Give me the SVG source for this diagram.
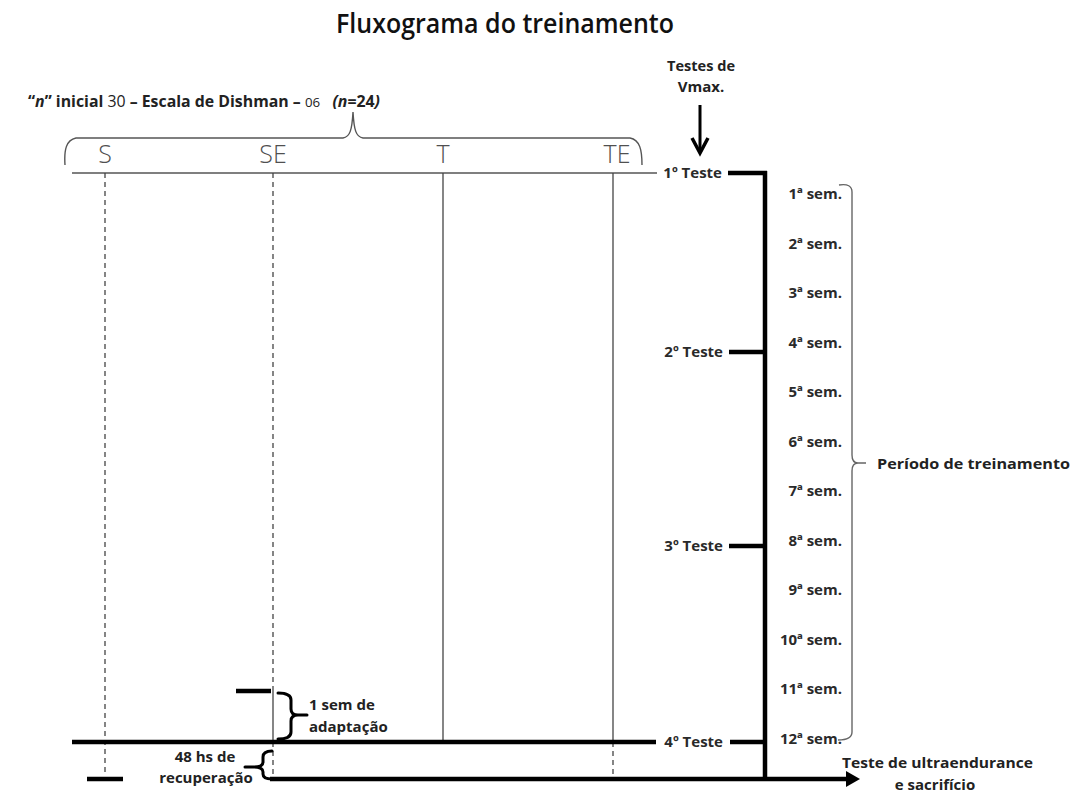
<svg xmlns="http://www.w3.org/2000/svg" width="1082" height="794" viewBox="0 0 1082 794">
<style>
text{font-family:"Open Sans","Liberation Sans",sans-serif;fill:#222}
.lbl{font-size:15px;font-weight:700}
.grp{font-size:25px;font-weight:300;fill:#505050;text-anchor:middle}
.sem{font-size:15px;font-weight:700;text-anchor:end;fill:#2a2a2a}
.tst{font-size:15px;font-weight:700;text-anchor:end;fill:#2a2a2a}
.thin{stroke:#555;stroke-width:1.4;fill:none}
.dash{stroke:#444;stroke-width:1.3;stroke-dasharray:5 4;fill:none}
.solid{stroke:#444;stroke-width:1.3;fill:none}
.thick{stroke:#000;stroke-width:4.5;fill:none}
.brace{stroke:#000;stroke-width:3;fill:none;stroke-linecap:round}
.gbrace{stroke:#666;stroke-width:1.4;fill:none}
</style>
<defs>
<marker id="tri" markerWidth="14" markerHeight="16" refX="2" refY="8" orient="auto" markerUnits="userSpaceOnUse">
<path d="M0 0 L14 8 L0 16 Z" fill="#000"/>
</marker>
</defs>
<rect width="1082" height="794" fill="#fff"/>

<g id="title">
<text x="505" y="33" font-size="27" font-weight="600" text-anchor="middle" textLength="338" lengthAdjust="spacingAndGlyphs" style="fill:#111">Fluxograma do treinamento</text>
</g>

<g id="header">
<text x="28" y="107" font-size="15.5" font-weight="700" textLength="352" lengthAdjust="spacingAndGlyphs" xml:space="preserve">“<tspan font-style="italic">n</tspan>” inicial <tspan font-weight="400">30</tspan> – Escala de Dishman – <tspan font-weight="400" font-size="13">06</tspan>   <tspan font-style="italic">(n</tspan>=24<tspan font-style="italic">)</tspan></text>
<path class="thin" d="M65 165 C64 150 66 140 76 138 L343 138 C350 137 352 130 353 112 C354 130 356 137 363 138 L630 138 C640 140 642 150 642 165"/>
</g>

<g id="groups">
<text class="grp" x="105" y="163">S</text>
<text class="grp" x="273" y="163">SE</text>
<text class="grp" x="443" y="163">T</text>
<text class="grp" x="617" y="163">TE</text>
</g>

<g id="connectors">
<line class="thin" x1="72" y1="173" x2="657" y2="173"/>
<line class="dash" x1="105" y1="173" x2="105" y2="772"/>
<line class="dash" x1="273" y1="173" x2="273" y2="691"/>
<line class="solid" x1="273" y1="691" x2="273" y2="742"/>
<line class="dash" x1="273" y1="742" x2="273" y2="778"/>
<line class="solid" x1="443" y1="173" x2="443" y2="742"/>
<line class="solid" x1="613" y1="173" x2="613" y2="742"/>
<line class="dash" x1="613" y1="742" x2="613" y2="776"/>
<line class="thick" x1="728" y1="173" x2="767" y2="173"/>
<line class="thick" x1="765" y1="171" x2="765" y2="781"/>
<line class="thick" x1="729" y1="352" x2="765" y2="352"/>
<line class="thick" x1="729" y1="546" x2="765" y2="546"/>
<line class="thick" x1="730" y1="742" x2="765" y2="742"/>
<line class="thick" x1="72" y1="742" x2="656" y2="742"/>
<line class="thick" x1="236" y1="691" x2="271" y2="691"/>
<line class="thick" x1="87" y1="779" x2="123" y2="779"/>
<line class="thick" x1="270" y1="779" x2="848" y2="779" marker-end="url(#tri)"/>
<line stroke="#000" stroke-width="3" x1="700" y1="105" x2="700" y2="150"/>
<path d="M692 138 L700 153 L708 138" stroke="#000" stroke-width="3.5" fill="none"/>
</g>

<g id="vmax">
<text class="lbl" x="701" y="71" text-anchor="middle" textLength="68" lengthAdjust="spacingAndGlyphs">Testes de</text>
<text class="lbl" x="701" y="92" text-anchor="middle">Vmax.</text>
</g>

<g id="tests">
<text class="tst" x="722" y="178">1º Teste</text>
<text class="tst" x="723" y="357">2º Teste</text>
<text class="tst" x="723" y="551">3º Teste</text>
<text class="tst" x="723" y="747">4º Teste</text>
</g>

<g id="weeks">
<text class="sem" x="842" y="199">1ª sem.</text>
<text class="sem" x="842" y="248.5">2ª sem.</text>
<text class="sem" x="842" y="298">3ª sem.</text>
<text class="sem" x="842" y="347.5">4ª sem.</text>
<text class="sem" x="842" y="397">5ª sem.</text>
<text class="sem" x="842" y="446.5">6ª sem.</text>
<text class="sem" x="842" y="496">7ª sem.</text>
<text class="sem" x="842" y="545.5">8ª sem.</text>
<text class="sem" x="842" y="595">9ª sem.</text>
<text class="sem" x="842" y="644.5">10ª sem.</text>
<text class="sem" x="842" y="694">11ª sem.</text>
<text class="sem" x="842" y="743.5">12ª sem.</text>
<path class="gbrace" d="M839 185 Q852 183 852 192 L852 455 Q852 463 858 463 L866 463 M858 463 Q852 463 852 471 L852 732 Q852 740 838 740"/>
</g>

<g id="periodo">
<text class="lbl" x="877" y="469" font-size="15.5" textLength="193" lengthAdjust="spacingAndGlyphs">Período de treinamento</text>
</g>

<g id="ultra">
<text class="lbl" x="842" y="768" textLength="191" lengthAdjust="spacingAndGlyphs">Teste de ultraendurance</text>
<text class="lbl" x="935" y="790" text-anchor="middle">e sacrifício</text>
</g>

<g id="adaptacao">
<path class="brace" d="M278 693 Q291 693 291 700 L291 709 Q291 715 298 715 L307 715 M298 715 Q291 715 291 721 L291 732 Q291 739 278 739"/>
<text class="lbl" x="309" y="710" font-size="14">1 sem de</text>
<text class="lbl" x="309" y="732" font-size="14">adaptação</text>
</g>

<g id="recuperacao">
<path class="brace" d="M272 751 Q263 751 263 757 L263 762 Q263 767 254 767 L245 767 M254 767 Q263 767 263 772 L263 774 Q263 779 272 779"/>
<text class="lbl" x="205" y="762" font-size="14" text-anchor="middle">48 hs de</text>
<text class="lbl" x="206" y="783" font-size="14" text-anchor="middle">recuperação</text>
</g>
</svg>
